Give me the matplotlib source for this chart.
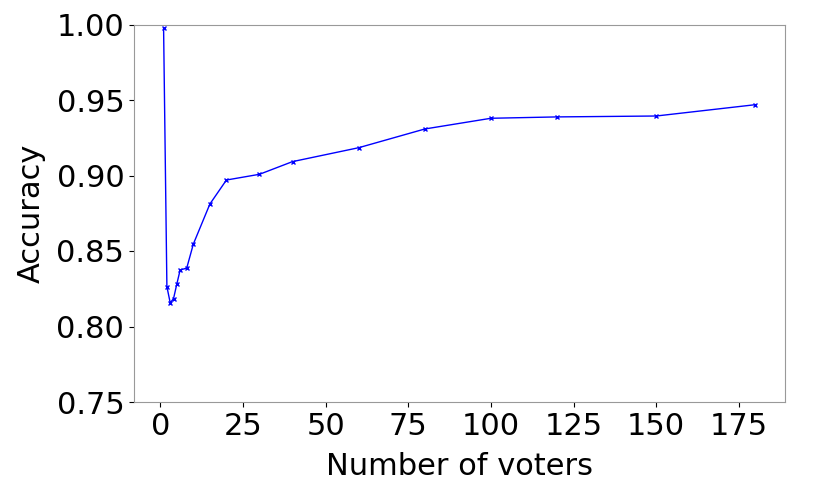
import numpy as np
import matplotlib.pyplot as plt

# number of voters vs accuracy
voters = [1, 2, 3, 4, 5, 6, 8, 10, 15, 20, 30, 40, 60, 80, 100, 120, 150, 180]
accuracy = [0.9975, 0.8264, 0.8157, 0.8184, 0.8281, 0.8374, 0.8387, 0.8546, 0.8811,
            0.8970, 0.9008, 0.9092, 0.9184, 0.9308, 0.9379, 0.9388, 0.9394, 0.9469]

fig = plt.figure(figsize=(8.3, 4.95), dpi=100)
ax = fig.add_axes([134 / 830, 1 - 402 / 495, (785 - 134) / 830, (402 - 24.5) / 495])
ax.plot(voters, accuracy, color='blue', marker='x', markersize=3, linewidth=1)
ax.set_ylim(0.75, 1.00)
ax.set_yticks([0.75, 0.80, 0.85, 0.90, 0.95, 1.00])
ax.set_xticks([0, 25, 50, 75, 100, 125, 150, 175])
ax.tick_params(labelsize=22)
ax.set_xlabel("Number of voters", fontsize=22, labelpad=8)
ax.set_ylabel("Accuracy", fontsize=22, labelpad=8)
for s in ax.spines.values():
    s.set_color('#999999')

fig.savefig("out.png", dpi=100)
